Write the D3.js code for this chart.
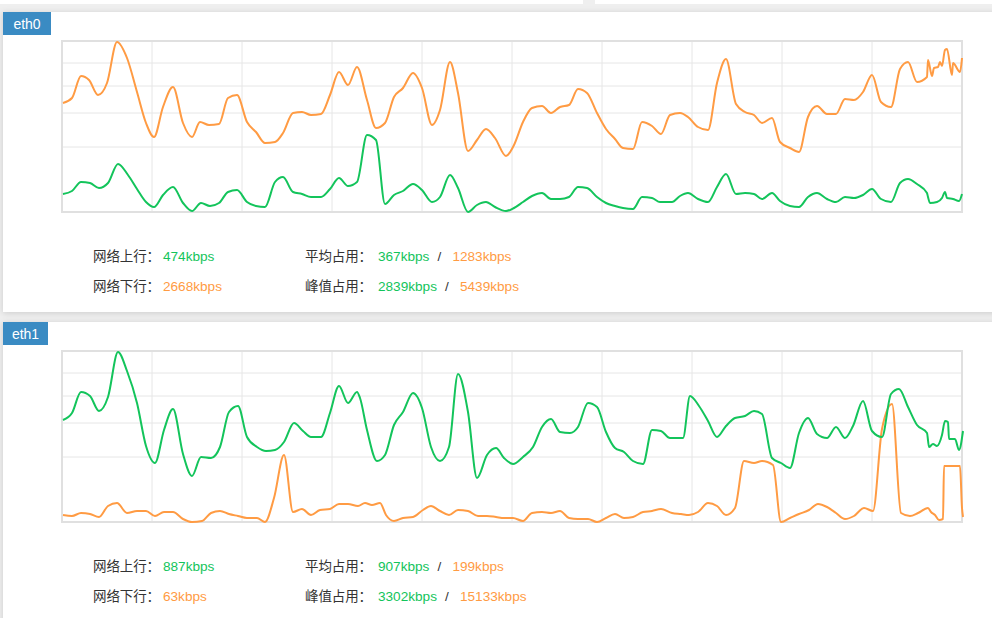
<!DOCTYPE html>
<html><head><meta charset="utf-8">
<script src="https://cdn.jsdelivr.net/npm/d3@7"></script>
<style>
body{margin:0;background:#efefef;font-family:"Noto Sans CJK SC","Noto Sans",sans-serif;}
</style></head><body>
<svg id="c" width="992" height="618"></svg>
<script>
// time offsets (0..900) and traffic levels (chart units, 0..171)
const eth0Down = [[1,109],[10,114],[19,136],[27,132],[36,117],[45,129],[55,170],[65,154],[75,120],[84,89],[92,75],[101,105],[111,125],[121,89],[130,75],[138,90],[147,87],[157,88],[166,114],[175,117],[185,90],[194,80],[203,69],[213,70],[221,79],[231,99],[240,100],[249,97],[259,98],[268,117],[277,140],[286,127],[295,145],[305,112],[314,84],[323,89],[332,115],[341,124],[351,139],[360,124],[370,87],[378,102],[388,150],[396,119],[406,61],[415,72],[424,83],[433,74],[444,56],[452,67],[461,90],[470,104],[480,106],[489,99],[498,105],[507,107],[516,123],[525,119],[535,99],[544,83],[553,73],[561,64],[571,63],[580,90],[590,86],[599,78],[608,97],[618,99],[626,95],[636,85],[646,82],[655,129],[664,153],[674,108],[683,100],[692,97],[700,89],[710,94],[718,70],[728,64],[737,60],[746,95],[755,106],[765,98],[774,98],[783,113],[792,112],[801,120],[810,137],[819,110],[829,105],[838,143],[846,150],[855,130],[865,135],[866,152],[870,136],[872,144],[876,145],[878,150],[880,146],[883,162],[885,163],[890,137],[891,149],[898,140],[900,154]];
const eth0Up = [[1,18],[10,21],[19,30],[28,29],[37,24],[46,29],[56,48],[66,37],[75,23],[84,10],[92,5],[101,17],[111,25],[121,9],[130,1],[139,9],[148,6],[157,9],[166,20],[175,22],[185,10],[194,6],[203,5],[213,30],[221,35],[231,20],[240,18],[249,15],[259,15],[268,23],[277,34],[286,26],[295,30],[305,77],[314,72],[323,8],[332,17],[341,21],[351,28],[360,22],[370,10],[378,15],[388,37],[396,24],[406,0],[415,7],[424,10],[433,5],[444,1],[452,4],[461,10],[470,16],[480,19],[489,13],[498,13],[507,15],[516,25],[525,24],[535,15],[544,9],[553,6],[561,4],[571,3],[580,15],[590,14],[598,10],[610,10],[618,16],[626,19],[636,13],[646,10],[655,25],[664,38],[674,18],[683,19],[692,18],[700,13],[710,19],[718,11],[728,6],[737,5],[746,15],[755,19],[765,13],[774,10],[783,15],[792,14],[801,17],[810,23],[819,13],[829,10],[838,29],[846,33],[855,28],[865,19],[866,15],[868,9],[875,10],[880,14],[883,20],[885,14],[891,13],[897,11],[900,18]];
const eth1Up = [[1,102],[10,109],[19,130],[28,126],[37,111],[46,125],[56,170],[65,151],[75,119],[84,76],[93,59],[102,92],[111,113],[121,68],[130,46],[139,65],[149,64],[158,75],[167,110],[176,116],[185,85],[195,75],[204,71],[213,72],[222,80],[232,99],[241,91],[249,85],[259,85],[268,109],[277,136],[286,119],[295,130],[298,124],[305,92],[315,61],[323,67],[332,97],[341,110],[351,129],[360,114],[369,75],[378,61],[387,75],[396,148],[406,110],[415,44],[425,67],[434,74],[442,64],[451,58],[461,65],[471,75],[480,95],[489,103],[498,90],[508,89],[516,95],[526,119],[535,115],[544,90],[553,74],[562,70],[571,61],[581,58],[590,92],[599,91],[608,84],[621,84],[628,126],[637,116],[646,101],[655,85],[664,96],[673,104],[683,106],[692,111],[700,108],[710,64],[719,59],[728,54],[737,89],[746,104],[755,88],[765,84],[774,95],[783,84],[791,96],[801,121],[810,91],[820,85],[829,128],[837,133],[846,115],[855,97],[865,89],[867,75],[871,78],[875,76],[880,87],[883,101],[886,100],[887,83],[893,83],[897,72],[901,91]];
const eth1Down = [[1,7],[10,6],[19,9],[28,8],[37,5],[46,16],[55,19],[65,9],[75,11],[84,11],[93,6],[102,10],[111,10],[121,3],[130,0],[140,1],[149,9],[158,11],[167,8],[176,6],[185,4],[195,4],[203,0],[212,24],[222,67],[231,10],[240,13],[249,7],[258,12],[268,13],[277,18],[286,18],[296,16],[303,19],[310,17],[318,19],[324,7],[332,1],[341,4],[351,5],[361,12],[369,16],[378,11],[387,7],[396,12],[406,11],[416,6],[425,6],[434,5],[442,4],[451,4],[461,1],[470,9],[480,10],[489,9],[498,11],[507,4],[516,3],[526,3],[535,0],[544,4],[553,8],[562,4],[571,5],[581,10],[590,11],[599,13],[610,9],[619,8],[627,7],[636,10],[646,19],[655,16],[664,7],[673,14],[682,61],[692,59],[700,61],[711,57],[719,0],[728,4],[737,8],[747,12],[756,18],[765,15],[774,9],[783,3],[792,6],[802,14],[811,11],[820,93],[830,118],[839,9],[848,6],[856,9],[866,14],[869,10],[873,7],[877,2],[881,3],[882,56],[898,56],[900,14],[901,5]];
const gridLevels = [65, 99, 126, 149];
const timeTicks = [90,180,270,360,450,540,630,720,810];
const panels = [
  {name:"eth0", up:eth0Up, down:eth0Down, upNow:"474kbps", downNow:"2668kbps", avg:["367kbps","1283kbps"], peak:["2839kbps","5439kbps"]},
  {name:"eth1", up:eth1Up, down:eth1Down, upNow:"887kbps", downNow:"63kbps", avg:["907kbps","199kbps"], peak:["3302kbps","15133kbps"]}
];
const GREEN="#13c45b", ORANGE="#ff9b43";
const svg=d3.select("#c");
svg.append("rect").attr("x",0).attr("y",-10).attr("width",583).attr("height",14).attr("fill","#fff");
svg.append("rect").attr("x",595).attr("y",-10).attr("width",397).attr("height",14).attr("fill","#fff");
const x=d3.scaleLinear().domain([0,900]).range([62,962]);
panels.forEach((p,i)=>{
  const oy=i*310;
  const g=svg.append("g");
  g.append("rect").attr("x",3).attr("y",12+oy).attr("width",995).attr("height",i?310:300).attr("fill","#fff")
    .style("filter","drop-shadow(0 1px 3px rgba(0,0,0,0.15))");
  g.append("rect").attr("x",3).attr("y",12+oy).attr("width",i?45:48).attr("height",23).attr("fill","#3a8bc3");
  g.append("text").attr("x",i?25.5:27).attr("y",29+oy).attr("text-anchor","middle").attr("fill","#fff")
    .attr("font-size",14).attr("font-family","'Liberation Sans',Arial,sans-serif").text(p.name);
  const y=d3.scaleLinear().domain([0,171]).range([212+oy,41+oy]);
  g.selectAll(".hg").data(gridLevels).join("line").attr("x1",62).attr("x2",962)
    .attr("y1",d=>y(d)).attr("y2",d=>y(d)).attr("stroke","#e6e6e6");
  g.selectAll(".vg").data(timeTicks).join("line").attr("y1",y(0)).attr("y2",y(171))
    .attr("x1",d=>x(d)).attr("x2",d=>x(d)).attr("stroke","#e6e6e6");
  g.append("rect").attr("x",62).attr("y",y(171)).attr("width",900).attr("height",171)
    .attr("fill","none").attr("stroke","#e0e0e0").attr("stroke-width",2);
  const line=d3.line().x(d=>x(d[0])).y(d=>y(d[1])).curve(d3.curveMonotoneX);
  [[p.down,ORANGE],[p.up,GREEN]].forEach(([d,c])=>g.append("path").datum(d).attr("d",line).attr("fill","none").attr("stroke",c).attr("stroke-width",2));
  const t=g.append("g").attr("fill","#333");
  const lab=(xx,yy,s)=>t.append("text").attr("x",xx).attr("y",yy).attr("font-size",13.5).attr("textLength",67).text(s);
  const val=(xx,yy,s,c)=>t.append("text").attr("x",xx).attr("y",yy).attr("font-size",13.6)
    .attr("font-family","'Liberation Sans',Arial,sans-serif").attr("fill",c).text(s);
  const r1=261+oy, r2=291+oy;
  lab(93,r1,"网络上行："); val(163,r1,p.upNow,GREEN);
  lab(93,r2,"网络下行："); val(163,r2,p.downNow,ORANGE);
  [[r1,p.avg],[r2,p.peak]].forEach(([ry,v])=>{
    lab(305,ry,"平均占用：".replace("平均", ry===r1?"平均":"峰值"));
    const a=val(378,ry,v[0],GREEN);
    const w=a.node().getComputedTextLength();
    t.append("text").attr("x",378+w+8).attr("y",ry).attr("font-size",13.5).attr("font-family","'Liberation Sans',Arial,sans-serif").text("/");
    val(378+w+23,ry,v[1],ORANGE);
  });
});
</script></body></html>
